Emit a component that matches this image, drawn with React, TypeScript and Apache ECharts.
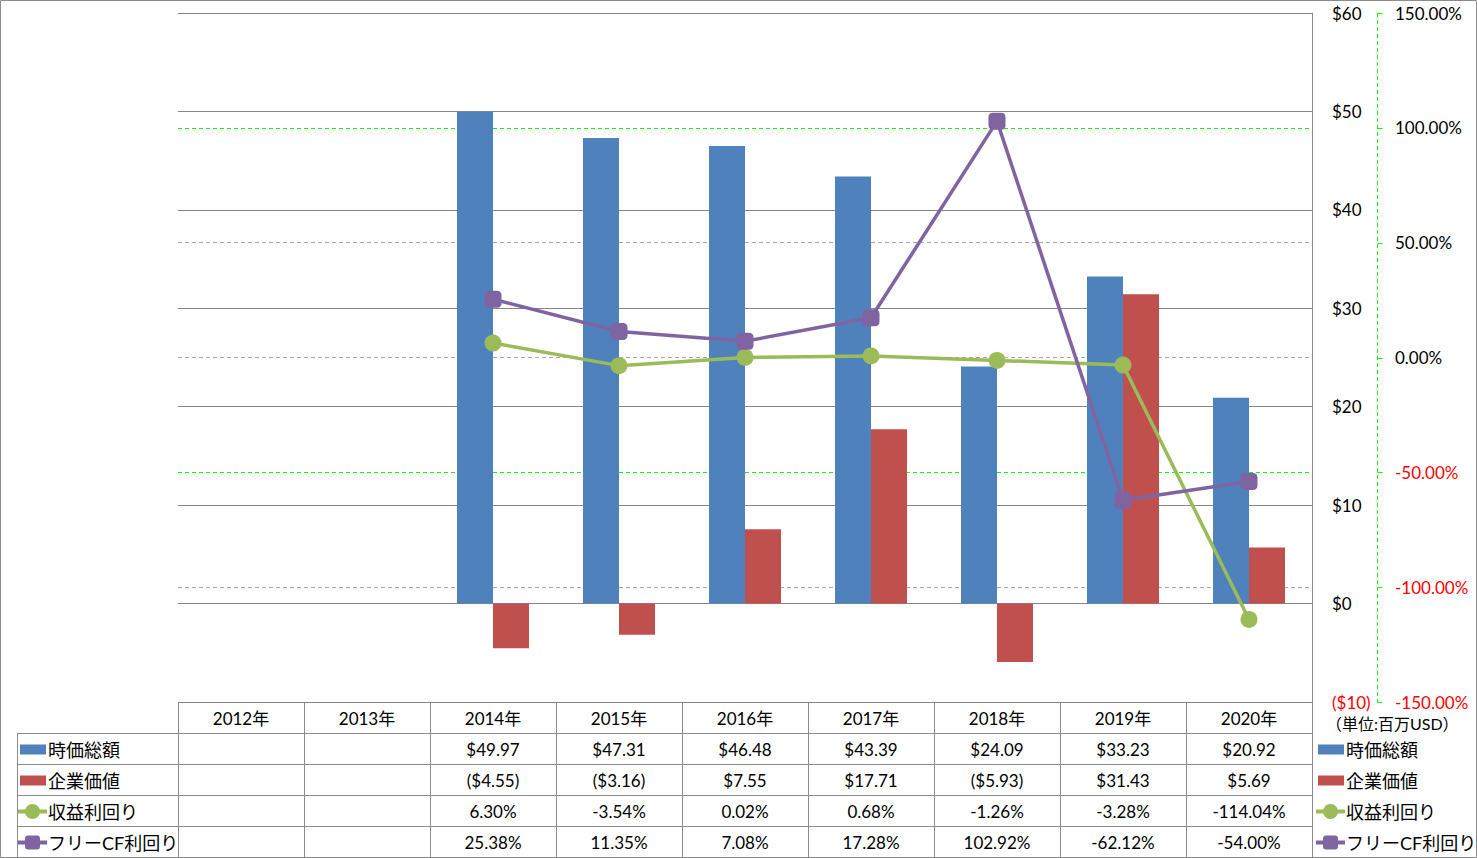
import React, { useEffect, useRef } from "react";
import * as echarts from "echarts";

const years = ["2012年", "2013年", "2014年", "2015年", "2016年", "2017年", "2018年", "2019年", "2020年"];
const marketCap = [null, null, 49.97, 47.31, 46.48, 43.39, 24.09, 33.23, 20.92];
const enterpriseValue = [null, null, -4.55, -3.16, 7.55, 17.71, -5.93, 31.43, 5.69];
const earningsYield = [null, null, 6.3, -3.54, 0.02, 0.68, -1.26, -3.28, -114.04];
const fcfYield = [null, null, 25.38, 11.35, 7.08, 17.28, 102.92, -62.12, -54.0];
const seriesNames = ["時価総額", "企業価値", "収益利回り", "フリーCF利回り"];
const unitLabel = "（単位:百万USD）";
const pctMin = -150;
const pctMax = 150;
const pctStep = 50;

const COLORS = ["#4F81BD", "#C0504D", "#9BBB59", "#8064A2"];
const FONT = "Lato, 'Noto Sans CJK JP', sans-serif";
const FS = 17;
const GRID = { left: 178, top: 13, width: 1134, height: 689 };
const PCT_AXIS_OFFSET = 65;
const ROW_H = 31;
const LINE_COLOR = "#8c8c8c";

const fmtMoney = (v: number | null) =>
  v === null ? "" : v < 0 ? `($${Math.abs(v).toFixed(2)})` : `$${v.toFixed(2)}`;
const fmtPct = (v: number | null) => (v === null ? "" : `${v.toFixed(2)}%`);

function legendKey(i: number, x: number, y: number): any[] {
  const c = COLORS[i];
  if (i < 2) {
    return [{ type: "rect", shape: { x: x + 2, y: y - 5, width: 26, height: 10 }, style: { fill: c } }];
  }
  const els: any[] = [
    { type: "line", shape: { x1: x, y1: y, x2: x + 29, y2: y }, style: { stroke: c, lineWidth: 4 } },
  ];
  if (i === 2) els.push({ type: "circle", shape: { cx: x + 14.5, cy: y, r: 7.5 }, style: { fill: c } });
  else els.push({ type: "rect", shape: { x: x + 7, y: y - 7, width: 15, height: 14, r: 3 }, style: { fill: c } });
  return els;
}

function buildPctAxisLine(): any[] {
  const x = GRID.left + GRID.width + PCT_AXIS_OFFSET + 0.5;
  const els: any[] = [
    {
      type: "line",
      shape: { x1: x, y1: GRID.top, x2: x, y2: GRID.top + GRID.height },
      style: { stroke: "#00ff00", lineWidth: 1, lineDash: [4, 3] },
    },
  ];
  const n = (pctMax - pctMin) / pctStep;
  for (let i = 0; i <= n; i++) {
    const y = Math.round(GRID.top + (GRID.height * i) / n) + 0.5;
    els.push({ type: "line", shape: { x1: x, y1: y, x2: x + 5, y2: y }, style: { stroke: "#00ff00", lineWidth: 1 } });
  }
  return els;
}

function buildTable(): any[] {
  const els: any[] = [];
  const colW = GRID.width / years.length;
  const top = GRID.top + GRID.height;
  const right = GRID.left + GRID.width;
  const bottom = top + ROW_H * 5;
  const ls = { stroke: LINE_COLOR, lineWidth: 1 };
  els.push({ type: "rect", shape: { x: 0.5, y: 0.5, width: 1476, height: 857 }, style: { fill: "none", stroke: LINE_COLOR, lineWidth: 1 } });
  els.push({ type: "line", shape: { x1: GRID.left, y1: top + 0.5, x2: right, y2: top + 0.5 }, style: ls });
  for (let r = 1; r <= 4; r++) {
    const y = top + ROW_H * r + 0.5;
    els.push({ type: "line", shape: { x1: 17, y1: y, x2: right, y2: y }, style: ls });
  }
  for (let k = 0; k <= years.length; k++) {
    const x = Math.round(GRID.left + colW * k) + 0.5;
    els.push({ type: "line", shape: { x1: x, y1: top, x2: x, y2: bottom }, style: ls });
  }
  els.push({ type: "line", shape: { x1: 17.5, y1: top + ROW_H, x2: 17.5, y2: bottom }, style: ls });
  const txt = (x: number, y: number, text: string, align = "center", size = FS) => ({
    type: "text",
    x,
    y,
    style: { text, fill: "#000", font: `${size}px ${FONT}`, align, verticalAlign: "middle" },
  });
  years.forEach((yr, k) => els.push(txt(GRID.left + colW * (k + 0.5), top + ROW_H / 2 + 1, yr)));
  const rows = [
    marketCap.map(fmtMoney),
    enterpriseValue.map(fmtMoney),
    earningsYield.map(fmtPct),
    fcfYield.map(fmtPct),
  ];
  rows.forEach((vals, r) => {
    const yMid = top + ROW_H * (r + 1) + ROW_H / 2 + 1;
    vals.forEach((s, k) => {
      if (s) els.push(txt(GRID.left + colW * (k + 0.5), yMid, s));
    });
    els.push(...legendKey(r, 18, yMid));
    els.push(txt(48, yMid, seriesNames[r], "left", 18));
    els.push(...legendKey(r, 1316, yMid));
    els.push(txt(1346, yMid, seriesNames[r], "left", 18));
  });
  els.push(txt(1326, top + 21, unitLabel, "left", 16));
  return els;
}

export default function App() {
  const ref = useRef<HTMLDivElement>(null);
  useEffect(() => {
    document.body.style.margin = "0";
    const chart = echarts.init(ref.current!, undefined, { renderer: "svg" });
    const pctSplitColors = ["rgba(0,0,0,0)", "#a6a6a6", "#00ff00", "#a6a6a6", "#a6a6a6", "#00ff00", "rgba(0,0,0,0)"];
    chart.setOption({
      animation: false,
      textStyle: { fontFamily: FONT },
      grid: { left: GRID.left, top: GRID.top, width: GRID.width, height: GRID.height, containLabel: false },
      xAxis: {
        type: "category",
        data: years,
        axisLine: { show: false },
        axisTick: { show: false },
        axisLabel: { show: false },
      },
      yAxis: [
        {
          type: "value",
          position: "right",
          min: -10,
          max: 60,
          interval: 10,
          axisLine: { show: true, lineStyle: { color: LINE_COLOR } },
          axisTick: { show: false },
          splitLine: { show: true, lineStyle: { color: "#868686", width: 1 } },
          axisLabel: {
            margin: 20,
            fontSize: FS,
            fontFamily: FONT,
            formatter: (v: number) => (v < 0 ? `($${-v})` : `$${v}`),
            color: (v: any) => (Number(v) < 0 ? "#ff0000" : "#000"),
          },
        },
        {
          type: "value",
          position: "right",
          offset: PCT_AXIS_OFFSET,
          min: pctMin,
          max: pctMax,
          interval: pctStep,
          axisLine: { show: false },
          axisTick: { show: false },
          splitLine: { show: true, lineStyle: { color: pctSplitColors, type: [4, 3], width: 1 } },
          axisLabel: {
            margin: 18,
            fontSize: FS,
            fontFamily: FONT,
            formatter: (v: number) => `${v.toFixed(2)}%`,
            color: (v: any) => (Number(v) < 0 ? "#ff0000" : "#000"),
          },
        },
      ],
      series: [
        { name: seriesNames[0], type: "bar", yAxisIndex: 0, data: marketCap, barWidth: 36, barGap: "0%", itemStyle: { color: COLORS[0] }, z: 2 },
        { name: seriesNames[1], type: "bar", yAxisIndex: 0, data: enterpriseValue, barWidth: 36, barGap: "0%", itemStyle: { color: COLORS[1] }, z: 2 },
        {
          name: seriesNames[2],
          type: "line",
          yAxisIndex: 1,
          data: earningsYield,
          symbol: "circle",
          symbolSize: 17,
          lineStyle: { color: COLORS[2], width: 3.5 },
          itemStyle: { color: COLORS[2] },
          z: 3,
        },
        {
          name: seriesNames[3],
          type: "line",
          yAxisIndex: 1,
          data: fcfYield,
          symbol: "roundRect",
          symbolSize: 17,
          lineStyle: { color: COLORS[3], width: 3.5 },
          itemStyle: { color: COLORS[3] },
          z: 4,
        },
      ],
      graphic: [...buildPctAxisLine(), ...buildTable()],
    });
    return () => chart.dispose();
  }, []);
  return <div ref={ref} style={{ position: "absolute", left: 0, top: 0, width: 1477, height: 858 }} />;
}
